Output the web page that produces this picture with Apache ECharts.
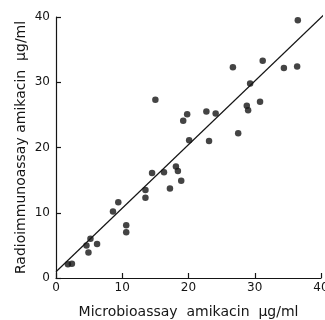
<!DOCTYPE html>
<html><head><meta charset="utf-8">
<script src="https://cdn.jsdelivr.net/npm/echarts@6/dist/echarts.min.js"></script>
<style>html,body{margin:0;padding:0;background:#fff}#c{width:325px;height:320px}</style>
</head><body><div id="c"></div>
<script>
const microbioassay = [1.8,2.4,4.6,4.9,5.2,6.2,8.6,9.4,10.6,10.6,13.5,13.5,14.5,15.0,16.3,17.2,18.1,18.4,18.9,19.2,19.8,20.1,22.7,23.1,24.1,26.7,27.5,28.8,29.0,29.3,30.8,31.2,34.4,36.4,36.5];
const radioimmunoassay = [2.1,2.2,5.0,3.9,6.0,5.2,10.2,11.6,8.1,7.0,13.5,12.3,16.1,27.3,16.2,13.7,17.1,16.4,14.9,24.1,25.1,21.1,25.5,21.0,25.2,32.3,22.2,26.4,25.7,29.8,27.0,33.3,32.2,32.4,39.5];
const fitX = [0, 40.7];
const fitY = [0.95, 40.6];
const xTicks = [0,10,20,30,40];
const yTicks = [0,10,20,30,40];
const xTitle = 'Microbioassay  amikacin  μg/ml';
const yTitle = 'Radioimmunoassay amikacin  μg/ml';

const ink = '#151515';
const font = 'DejaVu Sans';
const chart = echarts.init(document.getElementById('c'), null, {renderer:'canvas'});
chart.setOption({
  animation:false,
  backgroundColor:'#fff',
  grid:{left:56, right:4, top:17, bottom:42, containLabel:false, outerBoundsMode:'none'},
  xAxis:{type:'value', min:xTicks[0], max:xTicks[xTicks.length-1], interval:10,
    name:xTitle, nameLocation:'middle', nameGap:27, nameMoveOverlap:false,
    nameTextStyle:{color:ink, fontFamily:font, fontSize:14},
    axisLine:{lineStyle:{color:ink, width:1.2}},
    axisTick:{inside:true, length:5, lineStyle:{color:ink, width:1.2}},
    axisLabel:{color:ink, fontFamily:font, fontSize:12, margin:4},
    splitLine:{show:false}},
  yAxis:{type:'value', min:yTicks[0], max:yTicks[yTicks.length-1], interval:10,
    name:yTitle, nameLocation:'middle', nameGap:28, nameMoveOverlap:false,
    nameTextStyle:{color:ink, fontFamily:font, fontSize:14},
    axisLine:{lineStyle:{color:ink, width:1.2}},
    axisTick:{inside:true, length:5, lineStyle:{color:ink, width:1.2}},
    axisLabel:{color:ink, fontFamily:font, fontSize:12, margin:6},
    splitLine:{show:false}},
  series:[
    {type:'scatter', data:microbioassay.map((x,i)=>[x, radioimmunoassay[i]]),
     symbolSize:6.5, itemStyle:{color:ink}},
    {type:'line', data:fitX.map((x,i)=>[x, fitY[i]]), showSymbol:false, clip:false,
     lineStyle:{color:ink, width:1.2}}
  ]
});
</script></body></html>
